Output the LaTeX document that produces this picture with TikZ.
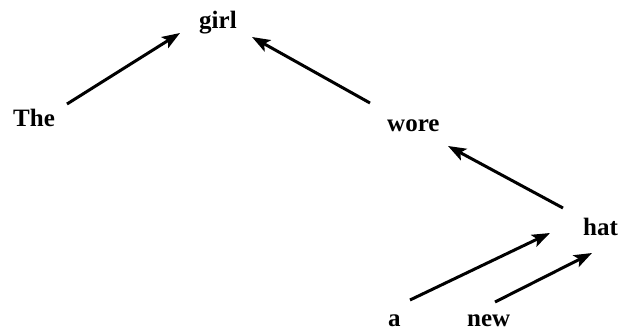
\documentclass[tikz,border=0pt]{standalone}
\usepackage{fontspec}
\setmainfont{Liberation Serif}
\usetikzlibrary{arrows.meta}
\begin{document}
\begin{tikzpicture}[x=1pt,y=-1pt,
  word/.style={anchor=base west,inner sep=0pt,font=\fontsize{25}{30}\selectfont\bfseries},
  arr/.style={line width=3pt,-{Stealth[length=18pt,width=13pt,inset=4pt]}}]
\useasboundingbox (0,0) rectangle (629,330);
\node[word] (The)  at (13,126)  {The};
\node[word] (girl) at (199,28)  {girl};
\node[word] (wore) at (387,131) {wore};
\node[word] (hat)  at (583,235) {hat};
\node[word] (a)    at (388,326) {a};
\node[word] (new)  at (467,326) {new};
\draw[arr] ([shift={(54,-22)}]The.base west) -- ([shift={(-19,5)}]girl.base west);
\draw[arr] ([shift={(-17,-28)}]wore.base west) -- ([shift={(53,9)}]girl.base west);
\draw[arr] ([shift={(-20,-27)}]hat.base west) -- ([shift={(61,15)}]wore.base west);
\draw[arr] ([shift={(22,-26)}]a.base west) -- ([shift={(-33,-2)}]hat.base west);
\draw[arr] ([shift={(28,-24)}]new.base west) -- ([shift={(9,18)}]hat.base west);
\end{tikzpicture}
\end{document}
